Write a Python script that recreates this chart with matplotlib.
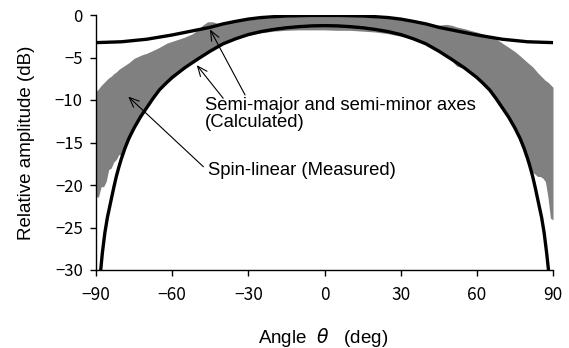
import matplotlib
matplotlib.use("Agg")
import matplotlib.pyplot as plt

# ---------------- data ----------------
# Measured spin-linear band (gray): upper and lower envelope
band_angle = [-90, -89, -88, -87, -86, -85, -84, -83, -82, -81, -80, -79, -77, -75, -72,
              -70, -67, -65, -62, -60, -57, -55, -52, -50, -48, -46, -44, -42, -40, -35,
              -30, -25, -20, -15, -10, -5, 0, 5, 10, 15, 20, 25, 30, 35, 40, 45, 48, 50,
              52, 55, 58, 60, 63, 65, 68, 70, 72, 75, 77, 80, 82, 84, 85, 86, 87, 88, 89, 90]
band_upper = [-9.0, -8.7, -8.3, -8.0, -7.7, -7.4, -7.2, -6.9, -6.7, -6.4, -6.2, -6.0, -5.6,
              -5.1, -4.7, -4.5, -4.1, -3.8, -3.3, -3.1, -2.8, -2.6, -2.2, -1.8, -1.2, -0.8,
              -0.8, -1.0, -0.95, -0.75, -0.55, -0.4, -0.3, -0.2, -0.15, -0.1, -0.1, -0.1,
              -0.15, -0.2, -0.3, -0.4, -0.5, -0.7, -0.95, -1.2, -1.1, -1.2, -1.4, -1.6,
              -1.85, -2.0, -2.3, -2.5, -2.9, -3.3, -3.7, -4.3, -4.8, -5.6, -6.1, -6.8, -7.1,
              -7.4, -7.7, -7.9, -8.2, -8.5]
band_lower = [-21.4, -21.4, -20.2, -20.2, -19.6, -18.2, -18.0, -17.3, -17.0, -16.4, -16.5,
              -15.9, -14.4, -13.4, -11.8, -10.9, -9.6, -8.8, -8.0, -7.5, -6.7, -6.3, -5.6,
              -5.2, -4.8, -4.4, -4.1, -3.75, -3.4, -2.8, -2.4, -2.1, -1.9, -1.8, -1.75,
              -1.75, -1.75, -1.8, -1.8, -1.9, -2.0, -2.2, -2.5, -2.8, -3.4, -4.2, -4.8,
              -5.3, -6.0, -6.3, -7.0, -7.5, -8.3, -8.8, -10.0, -10.9, -11.9, -13.4, -14.6,
              -16.8, -18.5, -19.0, -19.0, -19.2, -19.6, -21.4, -23.9, -24.1]

# Calculated semi-major axis (upper black curve)
major_angle = [-90, -85, -80, -75, -70, -65, -60, -55, -50, -45, -40, -35, -30, -25, -20,
               -15, -10, -5, 0, 5, 10, 15, 20, 25, 30, 35, 40, 45, 50, 55, 60, 65, 70, 75,
               80, 85, 90]
major_db = [-3.25, -3.2, -3.15, -3.0, -2.85, -2.6, -2.35, -2.05, -1.75, -1.45, -1.05, -0.75,
            -0.48, -0.3, -0.2, -0.12, -0.08, -0.05, -0.05, -0.05, -0.08, -0.12, -0.2, -0.3,
            -0.48, -0.75, -1.05, -1.45, -1.75, -2.05, -2.35, -2.6, -2.85, -3.0, -3.15,
            -3.2, -3.25]

# Calculated semi-minor axis (lower black curve)
minor_angle = [-88.3, -87.5, -86.5, -85.5, -84.5, -83, -82, -81, -80, -78.5, -77, -75,
               -72.5, -70, -67.5, -65, -62.5, -60, -55, -50, -45, -40, -35, -30, -25, -20,
               -15, -10, -5, 0, 5, 10, 15, 20, 25, 30, 35, 40, 45, 50, 55, 60, 62.5, 65,
               67.5, 70, 72.5, 75, 77, 78.5, 80, 81, 82, 83, 84.5, 85.5, 86.5, 87.5, 88.4]
minor_db = [-30.5, -28.0, -25.6, -23.8, -22.4, -20.3, -19.0, -17.9, -16.9, -15.6, -14.5,
            -13.3, -12.0, -10.9, -9.8, -8.8, -8.05, -7.35, -6.2, -5.2, -4.25, -3.4, -2.8,
            -2.3, -1.95, -1.7, -1.5, -1.37, -1.28, -1.25, -1.28, -1.37, -1.5, -1.7, -1.95,
            -2.3, -2.8, -3.4, -4.25, -5.2, -6.2, -7.35, -8.05, -8.8, -9.8, -10.9, -12.0,
            -13.3, -14.5, -15.6, -16.9, -17.9, -19.0, -20.3, -22.4, -23.8, -25.6, -28.0,
            -30.5]

x_ticks = [-90, -60, -30, 0, 30, 60, 90]
x_ticklabels = ["\u221290", "\u221260", "\u221230", "0", "30", "60", "90"]
y_ticks = [-30, -25, -20, -15, -10, -5, 0]
y_ticklabels = ["\u221230", "\u221225", "\u221220", "\u221215", "\u221210", "\u22125", "0"]

label_major = "Semi-major and semi-minor axes\n(Calculated)"
label_meas = "Spin-linear (Measured)"
x_label = "Angle  $\\theta$   (deg)"
y_label = "Relative amplitude (dB)"

# ---------------- figure ----------------
fig = plt.figure(figsize=(5.69, 3.48), dpi=100)
ax = fig.add_axes([96 / 569, 1 - 270 / 348, (553 - 96) / 569, (270 - 15) / 348])

ax.fill_between(band_angle, band_lower, band_upper, color="#808080", linewidth=0, zorder=1)
ax.plot(major_angle, major_db, color="black", lw=2.4, zorder=3)
ax.plot(minor_angle, minor_db, color="black", lw=2.4, zorder=3)

ax.set_xlim(-90, 90)
ax.set_ylim(-30, 0)
ax.set_xticks(x_ticks)
ax.set_xticklabels(x_ticklabels, family=["Noto Sans CJK JP", "DejaVu Sans"], fontsize=12.5)
ax.set_yticks(y_ticks)
ax.set_yticklabels(y_ticklabels, family=["Noto Sans CJK JP", "DejaVu Sans"], fontsize=12)
ax.tick_params(axis="y", direction="out", length=4.5, width=1, pad=5)
ax.tick_params(axis="x", direction="out", length=4.5, width=1, pad=7)
for s in ("top", "right"):
    ax.spines[s].set_visible(False)
for s in ("left", "bottom"):
    ax.spines[s].set_linewidth(1)

fig.text(323 / 569, 1 - 343 / 348, x_label, ha="center", va="baseline",
         family=["Liberation Sans"], fontsize=13.5)
ax.set_ylabel(y_label, family=["Liberation Sans"], fontsize=13.5, labelpad=14)

arrow = dict(arrowstyle="->,head_length=0.7,head_width=0.3", color="black", lw=0.8,
             shrinkA=0, shrinkB=0)
txt_font = dict(family=["Liberation Sans"], fontsize=13.3)
ax.annotate("", xy=(-45.1, -1.7), xytext=(-31.3, -9.4), arrowprops=arrow, zorder=5)
ax.annotate("", xy=(-50.3, -5.9), xytext=(-39.9, -9.8), arrowprops=arrow, zorder=5)
ax.annotate("", xy=(-77.3, -9.6), xytext=(-47.7, -17.85), arrowprops=arrow, zorder=5)
ax.text(-47.1, -9.7, label_major, ha="left", va="top", linespacing=1.0, **txt_font)
ax.text(-45.9, -17.3, label_meas, ha="left", va="top", **txt_font)

fig.savefig("out.png", dpi=100)
